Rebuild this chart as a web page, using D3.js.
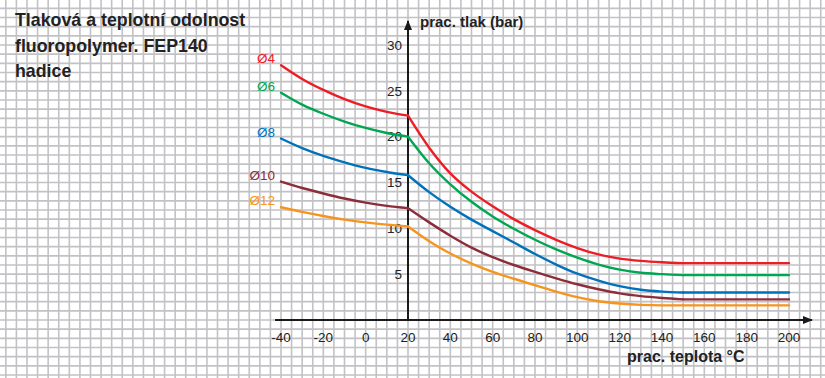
<!DOCTYPE html>
<meta charset="utf-8">
<head>
    <script src="https://d3js.org/d3.v7.min.js"></script>
    <style>
    body { margin: 0; background: #fff; }
    svg { display: block; font-family: "Liberation Sans", Arial, sans-serif; }
    .grid line { stroke: #c2c2c6; stroke-width: 1.6; }
    .series { fill: none; stroke-width: 2.4; stroke-linejoin: round; stroke-linecap: round; }
    </style>
</head>
<body>
    <script>
    var temps = [-40, -30, -20, -10, 0, 10, 20, 30, 40, 50, 60, 70, 80, 90, 100, 110, 120, 130, 140, 150, 200];

    // working pressure (bar) per hose diameter
    var d4  = [27.8, 26.3, 25.1, 24.1, 23.3, 22.7, 22.3, 18.8, 16.0, 14.0, 12.4, 11.0, 9.8, 8.75, 7.85, 7.15, 6.7, 6.45, 6.3, 6.2, 6.2];
    var d6  = [24.8, 23.5, 22.5, 21.65, 20.95, 20.4, 20.0, 17.1, 14.8, 12.9, 11.3, 9.95, 8.75, 7.7, 6.8, 6.05, 5.5, 5.15, 5.0, 4.9, 4.9];
    var d8  = [19.8, 18.75, 17.9, 17.2, 16.6, 16.15, 15.8, 13.95, 12.35, 10.95, 9.7, 8.45, 7.2, 6.05, 5.05, 4.3, 3.7, 3.3, 3.1, 3.0, 3.0];
    var d10 = [15.1, 14.4, 13.8, 13.25, 12.8, 12.45, 12.2, 10.65, 9.2, 7.9, 6.85, 6.0, 5.25, 4.55, 3.9, 3.35, 2.9, 2.6, 2.4, 2.25, 2.25];
    var d12 = [12.3, 11.8, 11.35, 10.95, 10.65, 10.4, 10.2, 8.6, 7.25, 6.15, 5.25, 4.5, 3.8, 3.1, 2.5, 2.05, 1.8, 1.65, 1.6, 1.6, 1.6];

    var seriesNames = ["Ø4", "Ø6", "Ø8", "Ø10", "Ø12"];
    var seriesValues = [d4, d6, d8, d10, d12];
    var seriesColors = ["#ee1c25", "#00a651", "#0072bc", "#8c2d3a", "#f7941d"];

    // tick labels
    var xTicks = [-40, -20, 0, 20, 40, 60, 80, 100, 120, 140, 160, 180, 200];
    var yTicks = [5, 10, 15, 20, 25, 30];

    var titleLines = ["Tlaková a teplotní odolnost", "fluoropolymer. FEP140", "hadice"];

    var width = 825, height = 378;

    // set the ranges
    var x = d3.scaleLinear().domain([-40, 200]).range([281, 789]);
    var y = d3.scaleLinear().domain([0, 30]).range([320, 45]);

    var svg = d3.select("body").append("svg")
        .attr("width", width)
        .attr("height", height);

    /*** background paper grid ***/
    var grid = svg.append("g").attr("class", "grid");
    var gx = d3.range(-230, 260, 5).map(function(t) { return x(t); })
        .filter(function(p) { return p > 0 && p < width; });
    var gy = d3.range(-10, 40, 1).map(function(v) { return y(v); })
        .filter(function(p) { return p > 0 && p < height; });
    grid.selectAll(".gv").data(gx).enter().append("line")
        .attr("x1", function(d) { return d; }).attr("x2", function(d) { return d; })
        .attr("y1", 0).attr("y2", height);
    grid.selectAll(".gh").data(gy).enter().append("line")
        .attr("y1", function(d) { return d; }).attr("y2", function(d) { return d; })
        .attr("x1", 0).attr("x2", width);

    /*** axes with arrows ***/
    svg.append("defs").append("marker")
        .attr("id", "arrow")
        .attr("viewBox", "0 0 10 10")
        .attr("refX", 9).attr("refY", 5)
        .attr("markerWidth", 5).attr("markerHeight", 5)
        .attr("markerUnits", "strokeWidth")
        .attr("orient", "auto")
        .append("path").attr("d", "M0,1 L10,5 L0,9 Z").attr("fill", "#1a1a1a");

    svg.append("line")
        .attr("x1", 275).attr("x2", 812)
        .attr("y1", y(0)).attr("y2", y(0))
        .attr("stroke", "#1a1a1a").attr("stroke-width", 2)
        .attr("marker-end", "url(#arrow)");
    svg.append("line")
        .attr("x1", x(20)).attr("x2", x(20))
        .attr("y1", y(0)).attr("y2", 21)
        .attr("stroke", "#1a1a1a").attr("stroke-width", 2)
        .attr("marker-end", "url(#arrow)");

    // tick labels
    svg.selectAll(".xt").data(xTicks).enter().append("text")
        .attr("x", function(d) { return x(d); })
        .attr("y", 342)
        .attr("text-anchor", "middle")
        .style("font-size", "13.5px")
        .style("fill", "#222")
        .text(function(d) { return d; });
    svg.selectAll(".yt").data(yTicks).enter().append("text")
        .attr("x", x(20) - 6)
        .attr("y", function(d) { return y(d); })
        .attr("dy", "0.35em")
        .attr("text-anchor", "end")
        .style("font-size", "13.5px")
        .style("fill", "#222")
        .text(function(d) { return d; });

    // axis titles
    svg.append("text")
        .attr("x", 420).attr("y", 27)
        .style("font-size", "15px").style("font-weight", "bold").style("fill", "#222")
        .text("prac. tlak (bar)");
    svg.append("text")
        .attr("x", 627).attr("y", 362)
        .style("font-size", "16px").style("font-weight", "bold").style("fill", "#222")
        .text("prac. teplota °C");

    /*** chart title ***/
    svg.append("text")
        .style("font-size", "17.8px").style("font-weight", "bold").style("fill", "#222")
        .selectAll("tspan").data(titleLines).enter().append("tspan")
        .attr("x", 15)
        .attr("y", function(d, i) { return 26 + i * 25.5; })
        .text(function(d) { return d; });

    /*** curves: sharp kinks at 20 and 150 deg C ***/
    var line = d3.line()
        .x(function(d) { return x(d[0]); })
        .y(function(d) { return y(d[1]); })
        .curve(d3.curveMonotoneX);

    function pieces(vals) {
        var pts = temps.map(function(t, i) { return [t, vals[i]]; });
        return [
            pts.filter(function(p) { return p[0] <= 20; }),
            pts.filter(function(p) { return p[0] >= 20 && p[0] <= 150; }),
            pts.filter(function(p) { return p[0] >= 150; })
        ];
    }

    seriesValues.forEach(function(vals, i) {
        var g = svg.append("g");
        g.selectAll("path").data(pieces(vals)).enter().append("path")
            .attr("class", "series")
            .attr("stroke", seriesColors[i])
            .attr("d", line);
        g.append("text")
            .attr("x", x(-40) - 6)
            .attr("y", y(vals[0]) - 2)
            .attr("text-anchor", "end")
            .style("font-size", "13.5px")
            .style("fill", seriesColors[i])
            .text(seriesNames[i]);
    });
    </script>
</body>
</html>
